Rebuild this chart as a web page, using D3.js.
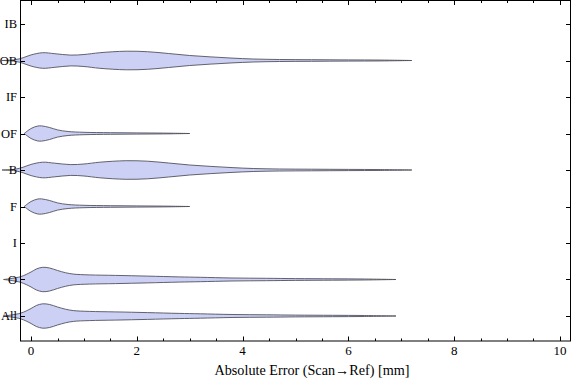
<!DOCTYPE html>
<html>
<head>
<meta charset="utf-8">
<script src="https://cdn.jsdelivr.net/npm/d3@7"></script>
<style>
  html, body { margin: 0; padding: 0; background: #fff; }
  svg { display: block; }
  text { font-family: "Liberation Serif", "DejaVu Serif", serif; }
</style>
</head>
<body>
<svg id="chart" width="576" height="381"></svg>
<script>
// ---- data ----
const categories = ["All", "O", "I", "F", "B", "OF", "IF", "OB", "IB"];   // bottom to top
const xTicks = [0, 2, 4, 6, 8, 10];
const xLabel = "Absolute Error (Scan\u2192Ref) [mm]";

// density profiles: sample positions (mm) and relative density
const profBX = [-0.55, -0.3, -0.15, 0, 0.22, 0.45, 0.75, 1.0, 1.3, 1.8, 2.2, 2.6, 3.0, 3.4, 3.8, 4.2, 4.7, 5.3, 6.0, 6.6, 7.2];
const profBD = [0, 0.08, 0.28, 0.56, 0.78, 0.68, 0.54, 0.6, 0.78, 0.93, 0.88, 0.7, 0.5, 0.36, 0.24, 0.15, 0.1, 0.08, 0.06, 0.045, 0];

const profFX = [-0.13, 0, 0.12, 0.2, 0.35, 0.5, 0.7, 1.0, 1.5, 2.0, 2.5, 3.0];
const profFD = [0, 0.5, 0.74, 0.76, 0.6, 0.36, 0.2, 0.12, 0.08, 0.06, 0.04, 0];

const profOX = [-0.52, -0.2, 0, 0.1, 0.22, 0.35, 0.5, 0.65, 0.8, 1.1, 1.6, 2.2, 2.8, 3.2, 3.8, 4.45, 5.0, 5.7, 6.3, 6.9];
const profOD = [0, 0.28, 0.75, 1.05, 1.22, 1.15, 0.9, 0.68, 0.54, 0.46, 0.41, 0.34, 0.26, 0.22, 0.15, 0.12, 0.09, 0.07, 0.05, 0];

// which profile each category uses (null = no data)
const violinOf = {
  "All": [profOX, profOD],
  "O":   [profOX, profOD],
  "I":   null,
  "F":   [profFX, profFD],
  "B":   [profBX, profBD],
  "OF":  [profFX, profFD],
  "IF":  null,
  "OB":  [profBX, profBD],
  "IB":  null
};

// ---- layout ----
const svg = d3.select("#chart");
const L = 20.5, R = 570.5, T = 0.5, B = 341;

const x = d3.scaleLinear().domain([-0.2, 10.2]).range([L, R]);
const y = d3.scaleLinear().domain([-0.685, 8.644]).range([B, T]);
const w = d3.scaleLinear().domain([0, 1]).range([0, 10]);

// violins
const area = d3.area()
  .x(d => x(d[0]))
  .curve(d3.curveCatmullRom.alpha(0.5));

categories.forEach((c, i) => {
  const v = violinOf[c];
  if (!v) return;
  const pts = v[0].map((xx, k) => [xx, v[1][k]]);
  const cy = y(i);
  area.y0(d => cy - w(d[1])).y1(d => cy + w(d[1]));
  svg.append("path")
    .attr("d", area(pts))
    .attr("fill", "#cbd0f4")
    .attr("stroke", "#4a4a55")
    .attr("stroke-opacity", 0.85)
    .attr("stroke-width", 1);
});

// frame
svg.append("rect")
  .attr("x", L).attr("y", T)
  .attr("width", R - L).attr("height", B - T)
  .attr("fill", "none").attr("stroke", "#000").attr("stroke-width", 1);

// x ticks (major + minor), bottom and top, inward
const minor = d3.range(0, 10.01, 0.5).filter(v => !xTicks.includes(v));
const tickG = svg.append("g").attr("stroke", "#000").attr("stroke-width", 1);
xTicks.forEach(v => {
  const px = Math.round(x(v)) + 0.5;
  tickG.append("line").attr("x1", px).attr("x2", px).attr("y1", B).attr("y2", B - 4.5);
  tickG.append("line").attr("x1", px).attr("x2", px).attr("y1", T).attr("y2", T + 4.5);
});
minor.forEach(v => {
  const px = Math.round(x(v)) + 0.5;
  tickG.append("line").attr("x1", px).attr("x2", px).attr("y1", B).attr("y2", B - 2.5);
  tickG.append("line").attr("x1", px).attr("x2", px).attr("y1", T).attr("y2", T + 2.5);
});

// y ticks left and right, inward
categories.forEach((c, i) => {
  const py = Math.round(y(i)) + 0.5;
  tickG.append("line").attr("x1", L).attr("x2", L + 4.5).attr("y1", py).attr("y2", py);
  tickG.append("line").attr("x1", R).attr("x2", R - 4.5).attr("y1", py).attr("y2", py);
});

// x tick labels
svg.append("g").selectAll("text").data(xTicks).join("text")
  .attr("x", d => x(d))
  .attr("y", 355)
  .attr("text-anchor", "middle")
  .attr("font-size", 13)
  .attr("fill", "#000")
  .text(d => d);

// y tick labels
svg.append("g").selectAll("text").data(categories).join("text")
  .attr("x", 17)
  .attr("y", (d, i) => y(i) + 4.3)
  .attr("text-anchor", "end")
  .attr("font-size", 12.5)
  .attr("fill", "#000")
  .text(d => d);

// x axis label
svg.append("text")
  .attr("x", 312)
  .attr("y", 375)
  .attr("text-anchor", "middle")
  .attr("font-size", 14.2)
  .attr("fill", "#000")
  .text(xLabel);
</script>
</body>
</html>
